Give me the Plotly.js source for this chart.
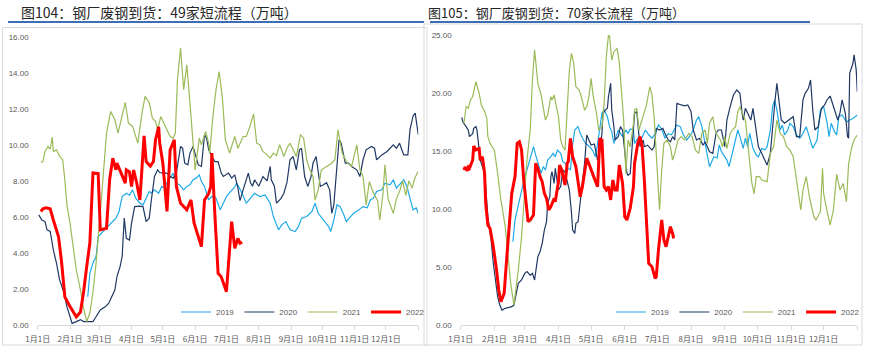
<!DOCTYPE html>
<html>
<head>
<meta charset="utf-8">
<script src="https://cdn.plot.ly/plotly-3.0.1.min.js"></script>
<style>
  html,body{margin:0;padding:0;background:#fff;}
  #chart{width:869px;height:353px;}
</style>
</head>
<body>
<div id="chart"></div>
<script>
// ---------- labels ----------
const titleLeft = '图104：钢厂废钢到货：49家短流程（万吨）';
const titleRight = '图105：钢厂废钢到货：70家长流程（万吨）';
const seriesNames = ['2019', '2020', '2021', '2022'];
// month starts as day-of-year (non-leap calendar)
const monthTickDays = [0, 31, 59, 90, 120, 151, 181, 212, 243, 273, 304, 334, 365];
const monthTickText = ['1月1日','2月1日','3月1日','4月1日','5月1日','6月1日','7月1日','8月1日','9月1日','10月1日','11月1日','12月1日',''];
const leftYTicks = [0, 2, 4, 6, 8, 10, 12, 14, 16];
const rightYTicks = [0, 5, 10, 15, 20, 25];

// ---------- data: [day of year, 万吨] ----------
// 49家短流程
const short2019 = [[48,1.57],[50,2.87],[53,3.44],[56,3.8],[58,4.91],[61,5.09],[66,5.37],[69,5.56],[72,5.74],[75,5.93],[78,6.3],[81,7.13],[85,7.31],[88,7.2],[91,7.5],[94,7.04],[98,6.76],[101,6.67],[104,7.04],[107,7.41],[109,7.31],[112,7.5],[116,7.31],[119,7.69],[122,7.59],[125,8.06],[128,8.24],[130,8.43],[133,7.87],[136,7.78],[140,7.5],[143,7.69],[146,7.78],[149,8.06],[152,8.15],[155,8.33],[157,7.96],[160,7.69],[164,6.94],[167,7.13],[171,7.04],[175,6.39],[178,6.76],[181,7.13],[184,7.35],[188,7.59],[191,7.87],[196,7.31],[200,6.76],[204,7.04],[208,7.31],[213,7.13],[218,7.22],[223,6.76],[226,6.02],[231,5.28],[234,5.56],[238,5.74],[242,5.28],[247,5.19],[250,5.46],[253,5.93],[258,6.02],[263,6.3],[266,6.76],[269,6.2],[274,5.83],[279,5.46],[281,5.19],[284,5.83],[287,6.67],[290,6.57],[293,6.2],[296,5.74],[300,6.02],[303,6.2],[308,6.39],[312,6.57],[316,6.5],[319,6.94],[322,7.04],[325,7.41],[330,7.5],[333,7.87],[338,7.78],[341,8.06],[344,7.6],[348,7.87],[351,8.06],[354,7.7],[357,7.0],[360,6.39],[363,6.5],[365,6.2]];
const short2020 = [[1,6.11],[4,5.83],[7,5.74],[9,5.28],[12,5.19],[15,4.17],[18,3.44],[21,2.5],[25,1.83],[28,1.02],[31,0.46],[33,0.09],[37,0.19],[41,0.3],[44,0.19],[48,0.2],[53,0.19],[56,0.46],[60,0.83],[65,1.02],[68,1.2],[71,1.57],[74,1.94],[76,2.69],[79,3.24],[81,3.8],[83,5.93],[85,4.81],[88,4.72],[90,5.65],[93,6.57],[98,6.6],[101,6.57],[104,5.74],[107,5.93],[109,6.94],[112,8.24],[115,8.61],[117,8.46],[120,8.43],[124,8.43],[127,8.24],[130,8.15],[133,8.43],[135,9.07],[137,9.91],[139,9.81],[141,8.98],[144,8.89],[146,9.54],[149,9.91],[152,9.35],[154,8.89],[157,8.8],[160,10.56],[162,10.37],[164,9.72],[167,9.35],[170,9.07],[173,9.07],[176,8.43],[178,8.24],[181,8.33],[183,8.43],[186,8.15],[189,8.33],[192,7.6],[194,6.9],[197,7.5],[202,8.43],[204,7.9],[206,7.7],[208,8.06],[212,7.7],[216,8.24],[220,8.0],[223,8.8],[224,8.06],[227,7.7],[229,6.76],[233,7.0],[236,7.3],[239,7.9],[242,9.17],[245,9.35],[248,8.61],[251,9.72],[253,9.81],[256,8.24],[259,7.69],[262,8.2],[264,8.98],[267,9.35],[269,8.61],[271,7.69],[274,7.78],[277,7.9],[280,7.5],[282,6.2],[284,6.67],[286,8.06],[287,9.07],[289,10.28],[291,10.09],[295,8.98],[298,8.98],[301,8.8],[306,8.61],[309,8.24],[312,9.17],[315,9.72],[320,9.91],[323,9.81],[325,9.17],[330,9.44],[335,9.63],[341,10.0],[344,9.81],[347,10.09],[351,9.44],[355,9.44],[357,10.83],[360,11.6],[362,11.76],[365,10.56]];
const short2021 = [[3,9.02],[5,9.07],[7,9.63],[10,9.91],[12,9.76],[14,10.43],[15,9.63],[18,9.72],[21,9.35],[24,9.17],[26,8.06],[28,6.67],[31,5.65],[34,4.35],[37,3.06],[41,1.94],[44,0.93],[47,0.19],[50,0.65],[53,1.83],[56,3.44],[60,6.2],[63,8.43],[66,10.65],[70,11.85],[74,11.39],[77,10.65],[80,11.39],[84,12.35],[87,11.2],[91,11.02],[93,10.65],[96,10.09],[100,11.76],[103,12.69],[107,12.33],[110,11.48],[113,11.3],[115,10.83],[118,11.57],[120,11.3],[124,10.83],[127,10.46],[130,10.37],[132,10.65],[134,13.6],[137,15.37],[140,13.06],[143,14.44],[146,12.33],[149,10.28],[151,8.61],[155,10.37],[157,10.0],[161,10.74],[164,10.09],[165,9.54],[168,11.57],[171,13.06],[174,14.07],[177,12.69],[180,10.28],[184,9.54],[189,10.46],[192,9.81],[197,10.46],[200,10.46],[203,10.93],[207,11.72],[210,10.09],[213,10.0],[216,9.63],[220,9.44],[223,9.26],[226,9.54],[229,9.4],[232,10.0],[236,9.35],[239,9.81],[242,10.09],[245,9.72],[248,9.35],[252,10.56],[255,10.37],[258,9.17],[261,8.61],[264,8.24],[266,6.94],[269,7.5],[272,8.61],[277,8.8],[282,8.98],[285,9.17],[288,10.83],[292,9.54],[296,9.07],[301,8.8],[306,10.0],[309,8.61],[312,8.24],[315,6.67],[318,7.96],[322,7.31],[326,6.9],[328,5.83],[331,7.2],[333,8.89],[336,7.0],[341,6.2],[344,7.0],[347,7.4],[350,8.0],[353,7.2],[356,8.0],[359,7.6],[362,8.2],[365,8.52]];
const short2022 = [[3,6.3],[5,6.45],[8,6.5],[12,6.45],[15,5.83],[18,5.28],[20,4.9],[23,3.44],[26,1.57],[31,1.02],[37,0.45],[41,0.72],[44,1.83],[47,3.24],[50,4.55],[53,8.44],[58,8.4],[60,5.28],[66,5.37],[69,8.06],[72,9.26],[75,8.61],[76,8.98],[80,8.43],[84,7.87],[85,8.61],[88,8.5],[90,7.69],[92,8.6],[95,7.87],[98,6.94],[102,10.5],[104,9.07],[108,8.82],[111,9.07],[113,10.28],[116,11.0],[117,10.1],[120,8.98],[124,6.3],[127,9.72],[131,10.28],[133,7.69],[137,6.76],[140,6.57],[143,6.39],[147,6.94],[150,5.65],[152,5.28],[157,4.35],[160,6.94],[164,7.3],[166,7.69],[167,9.54],[170,6.02],[173,2.87],[176,2.68],[181,1.85],[186,5.74],[189,4.26],[192,4.81],[194,4.54],[196,4.6]];

// 70家长流程
const long2019 = [[48,7.18],[50,9.05],[52,9.91],[54,10.78],[56,11.64],[59,12.79],[61,13.36],[63,14.08],[66,14.94],[67,15.37],[69,14.65],[71,13.94],[74,13.07],[76,13.65],[78,13.36],[80,14.22],[83,14.51],[85,14.8],[87,14.5],[89,15.08],[92,14.8],[94,14.08],[96,13.94],[99,13.5],[101,13.36],[103,15.52],[105,16.81],[108,17.1],[110,16.52],[113,15.95],[115,15.66],[117,15.52],[120,15.23],[122,14.94],[124,14.51],[126,15.66],[129,17.67],[130,18.25],[132,18.53],[135,17.96],[137,17.1],[139,16.67],[141,15.66],[143,16.24],[145,16.8],[147,16.52],[149,16.24],[152,16.8],[154,16.52],[156,16.9],[159,16.81],[160,15.66],[163,16.1],[166,16.0],[170,16.81],[173,16.4],[176,16.1],[179,16.5],[182,17.24],[185,16.9],[188,16.1],[191,16.5],[194,16.4],[199,17.24],[202,17.1],[205,16.38],[208,15.95],[211,16.3],[214,16.81],[217,17.67],[219,17.96],[222,17.1],[224,15.95],[226,15.09],[229,13.65],[231,14.08],[233,14.51],[236,14.4],[238,15.52],[240,14.94],[243,14.51],[245,14.22],[247,13.65],[249,14.4],[252,15.66],[255,16.81],[257,16.24],[260,15.23],[262,16.1],[264,15.37],[266,16.52],[269,15.23],[272,14.65],[274,14.51],[277,15.23],[280,15.1],[282,15.37],[285,16.81],[287,18.82],[289,19.4],[291,18.53],[294,16.81],[296,17.24],[298,16.38],[301,16.81],[303,17.39],[306,17.1],[309,16.38],[312,16.1],[315,16.52],[318,17.1],[321,16.24],[324,15.23],[328,15.95],[331,18.53],[334,18.82],[337,17.53],[339,16.24],[341,17.39],[344,16.67],[346,16.38],[348,17.96],[351,18.1],[354,17.67],[356,17.53],[358,17.67],[361,17.8],[363,17.96],[365,18.1]];
const long2020 = [[1,17.9],[2,17.5],[5,17.1],[7,16.8],[8,16.24],[11,16.5],[12,16.95],[14,17.1],[15,16.8],[17,15.37],[18,14.22],[21,13.36],[23,11.93],[25,9.34],[28,7.33],[30,5.32],[32,3.59],[34,2.44],[36,1.72],[38,1.29],[41,1.44],[44,1.52],[47,1.58],[49,1.72],[51,2.73],[53,3.59],[56,3.88],[59,4.45],[61,4.6],[64,4.3],[66,4.45],[68,3.88],[71,5.89],[73,6.32],[75,7.04],[77,8.19],[79,8.91],[80,10.49],[82,11.06],[83,12.79],[84,13.22],[86,12.21],[87,13.5],[90,11.64],[92,11.93],[94,13.36],[96,13.2],[99,11.78],[100,11.6],[102,9.63],[103,8.19],[105,7.9],[106,8.77],[108,8.9],[110,10.49],[111,11.06],[113,12.79],[114,13.94],[116,16.38],[119,15.8],[120,15.52],[123,15.6],[125,14.65],[126,14.2],[128,14.9],[130,16.52],[131,18.25],[133,18.53],[135,18.68],[136,19.68],[138,20.83],[139,18.53],[141,17.1],[142,15.95],[145,16.24],[147,17.1],[149,16.8],[151,15.08],[153,13.07],[154,12.9],[156,13.07],[158,15.66],[160,18.25],[162,18.4],[164,15.95],[165,15.4],[168,15.95],[169,15.37],[172,15.5],[176,15.08],[178,15.37],[180,16.95],[183,16.8],[186,16.95],[188,16.5],[191,15.95],[193,15.8],[195,16.24],[197,15.95],[199,19.11],[203,18.97],[206,18.9],[209,18.97],[212,18.39],[214,16.81],[217,15.95],[220,16.1],[223,15.5],[225,15.8],[229,14.94],[232,14.8],[235,16.52],[237,16.81],[240,16.81],[243,15.37],[245,17.67],[248,18.82],[251,19.83],[254,20.26],[257,19.97],[259,18.25],[260,17.67],[262,18.68],[265,18.1],[267,17.67],[269,18.68],[272,16.81],[274,15.37],[277,14.8],[280,14.22],[282,13.79],[285,14.8],[287,17.39],[289,19.11],[291,20.83],[293,19.4],[295,17.67],[298,17.39],[302,17.67],[306,17.96],[309,16.24],[312,16.24],[315,19.4],[317,19.97],[320,20.4],[322,21.12],[324,18.53],[326,16.81],[329,17.1],[332,18.68],[335,18.97],[337,19.4],[340,19.74],[342,19.1],[344,18.53],[347,17.67],[349,18.25],[351,19.4],[354,18.25],[356,16.24],[357,16.1],[358,21.7],[361,22.56],[362,23.28],[364,22.0],[365,20.11]];
const long2021 = [[3,17.39],[5,18.82],[7,18.7],[9,19.4],[11,19.68],[14,20.98],[17,19.97],[19,18.97],[22,18.4],[24,17.82],[25,16.24],[27,15.66],[29,15.37],[31,15.08],[34,13.07],[37,10.78],[41,8.48],[44,5.89],[46,3.59],[49,1.72],[51,3.02],[53,4.74],[56,7.61],[59,11.64],[61,14.22],[64,16.81],[66,21.12],[68,23.71],[69,22.84],[71,20.83],[74,19.83],[76,18.68],[78,17.67],[80,18.1],[83,19.68],[84,19.4],[86,19.83],[88,18.82],[90,17.96],[92,15.95],[94,15.37],[96,15.08],[98,18.25],[100,21.98],[102,23.42],[104,22.56],[106,20.54],[109,20.25],[111,19.68],[113,18.82],[114,18.53],[116,18.82],[118,19.68],[120,21.26],[122,19.68],[125,18.25],[127,16.81],[130,17.1],[132,19.11],[134,23.13],[136,25.0],[137,24.9],[139,22.84],[141,23.56],[144,23.85],[146,22.56],[148,19.68],[150,17.67],[152,13.07],[154,15.95],[156,15.37],[159,17.39],[160,18.53],[162,18.68],[164,16.81],[165,17.1],[168,17.96],[171,18.97],[174,20.54],[176,19.83],[178,17.96],[180,14.51],[182,11.93],[183,9.91],[185,13.36],[187,15.66],[190,15.95],[193,15.37],[195,14.22],[197,14.8],[200,15.95],[203,16.24],[206,15.95],[210,16.52],[213,16.24],[216,15.09],[219,14.8],[222,16.52],[225,16.81],[227,15.66],[229,17.39],[232,17.96],[234,16.81],[236,16.38],[239,15.95],[241,15.37],[243,16.24],[245,15.2],[248,16.52],[250,16.81],[253,17.1],[255,18.39],[257,18.82],[259,18.25],[262,17.67],[264,15.66],[266,13.65],[268,12.21],[270,11.3],[272,12.79],[275,12.8],[277,12.5],[282,12.36],[285,14.8],[288,15.37],[291,17.67],[294,16.52],[297,16.24],[300,15.37],[303,15.09],[306,14.51],[309,12.5],[313,9.91],[315,11.64],[318,12.8],[321,11.0],[325,9.34],[327,9.05],[331,9.77],[333,13.5],[334,11.35],[337,9.91],[340,8.62],[343,9.91],[346,13.0],[349,11.64],[352,12.2],[355,10.63],[357,13.9],[360,15.37],[362,15.95],[365,16.38]];
const long2022 = [[3,13.36],[4,13.62],[6,13.3],[7,13.6],[8,13.5],[10,13.94],[11,14.2],[12,15.43],[14,15.1],[17,15.2],[18,14.2],[20,14.5],[22,13.07],[23,10.49],[25,8.62],[27,8.33],[30,6.75],[33,4.74],[35,3.02],[37,2.01],[40,2.73],[42,5.32],[45,8.77],[47,11.36],[50,12.79],[52,15.66],[54,15.8],[56,15.1],[58,12.5],[60,10.49],[62,8.91],[64,9.05],[67,9.48],[69,13.94],[71,13.5],[73,12.79],[75,12.36],[77,11.36],[79,10.92],[81,9.91],[83,10.2],[86,10.92],[87,10.63],[90,12.36],[91,13.79],[93,13.36],[96,12.07],[98,13.94],[99,14.1],[101,16.09],[103,14.51],[106,13.65],[108,12.21],[110,11.06],[112,11.93],[114,13.07],[116,14.37],[119,13.65],[121,13.07],[123,12.64],[126,11.93],[128,16.09],[130,15.95],[132,11.93],[134,11.64],[136,11.93],[138,10.78],[140,12.5],[142,11.64],[144,11.64],[146,13.79],[149,12.21],[151,9.34],[153,9.05],[156,10.06],[159,11.93],[160,13.94],[163,15.66],[165,16.24],[167,15.37],[169,12.5],[171,9.34],[173,5.32],[176,5.03],[179,4.02],[180,4.17],[182,6.47],[185,9.05],[187,7.33],[189,6.75],[192,7.9],[193,8.48],[195,7.9],[196,7.47]];

// ---------- styling ----------
const colors = {'2019': '#1FA9E6', '2020': '#1F3864', '2021': '#9BBB59', '2022': '#FF0000'};
const widths = {'2019': 1.2, '2020': 1.2, '2021': 1.2, '2022': 3};

const W = 869, H = 353;
const px = v => v / W;
const py = v => 1 - v / H;

function mk(name, pts, xa, ya, legend) {
  return {
    type: 'scatter', mode: 'lines', name: name,
    x: pts.map(p => p[0]), y: pts.map(p => p[1]),
    xaxis: xa, yaxis: ya, legend: legend,
    line: {color: colors[name], width: widths[name]},
    hoverinfo: 'skip'
  };
}

const leftSets = [short2019, short2020, short2021, short2022];
const rightSets = [long2019, long2020, long2021, long2022];
const traces = [];
seriesNames.forEach((n, i) => traces.push(mk(n, leftSets[i], 'x', 'y', 'legend')));
seriesNames.forEach((n, i) => traces.push(mk(n, rightSets[i], 'x2', 'y2', 'legend2')));

const tickFont = {family: 'Liberation Sans, Arial, sans-serif', size: 8, color: '#595959'};
const xTickFont = {family: 'Noto Sans CJK SC, sans-serif', size: 8, color: '#595959'};

function xAxis(d0, d1, anchor) {
  return {
    domain: [px(d0), px(d1)], anchor: anchor, range: [0, 365],
    tickmode: 'array', tickvals: monthTickDays, ticktext: monthTickText, tickangle: 0,
    showgrid: false, zeroline: false, showline: true, linecolor: '#D9D9D9', linewidth: 1,
    ticks: 'outside', ticklen: 4, tickcolor: '#D9D9D9', tickfont: xTickFont,
    ticklabelstandoff: 2, fixedrange: true
  };
}
function yAxis(top, rng, vals, anchor) {
  return {
    domain: [py(325), py(top)], anchor: anchor, range: rng,
    tickmode: 'array', tickvals: vals, tickformat: '.2f',
    showgrid: false, zeroline: false, showline: false, ticks: '',
    tickfont: tickFont, ticklabelstandoff: 8, fixedrange: true
  };
}

const legendBase = {
  orientation: 'h', yanchor: 'middle', y: py(312), xanchor: 'center',
  font: {family: 'Liberation Sans, Arial, sans-serif', size: 8, color: '#595959'},
  bgcolor: 'rgba(0,0,0,0)', traceorder: 'normal', itemclick: false
};

const layout = {
  width: W, height: H,
  margin: {l: 0, r: 0, t: 0, b: 0},
  paper_bgcolor: '#FFFFFF', plot_bgcolor: 'rgba(0,0,0,0)',
  font: {family: 'Liberation Sans, Arial, sans-serif'},
  showlegend: true,
  xaxis: xAxis(37.7, 418.3, 'y'),
  yaxis: yAxis(36.7, [0, 16], leftYTicks, 'x'),
  xaxis2: xAxis(460.7, 857.3, 'y2'),
  yaxis2: yAxis(35, [0, 25], rightYTicks, 'x2'),
  legend: Object.assign({}, legendBase, {x: px(303)}),
  legend2: Object.assign({}, legendBase, {x: px(738)}),
  shapes: [
    {type: 'rect', xref: 'paper', yref: 'paper', x0: px(2.5), x1: px(427), y0: py(345), y1: py(27.5),
     line: {color: '#D9D9D9', width: 1}, fillcolor: 'rgba(0,0,0,0)', layer: 'below'},
    {type: 'rect', xref: 'paper', yref: 'paper', x0: px(424), x1: px(862), y0: py(345), y1: py(24),
     line: {color: '#D9D9D9', width: 1}, fillcolor: 'rgba(0,0,0,0)', layer: 'below'},
    {type: 'line', xref: 'paper', yref: 'paper', x0: px(8), x1: px(424), y0: py(22), y1: py(22),
     line: {color: '#3C6EB4', width: 2}},
    {type: 'line', xref: 'paper', yref: 'paper', x0: px(430), x1: px(810), y0: py(22), y1: py(22),
     line: {color: '#3C6EB4', width: 2}}
  ],
  annotations: [
    {text: titleLeft, xref: 'paper', yref: 'paper', x: px(19), y: py(12), xanchor: 'left', yanchor: 'middle',
     showarrow: false, font: {family: 'Noto Sans CJK SC, sans-serif', size: 14, color: '#262626'}},
    {text: titleRight, xref: 'paper', yref: 'paper', x: px(426), y: py(12), xanchor: 'left', yanchor: 'middle',
     showarrow: false, font: {family: 'Noto Sans CJK SC, sans-serif', size: 13, color: '#262626'}}
  ]
};

Plotly.newPlot('chart', traces, layout, {staticPlot: true, displayModeBar: false});
</script>
</body>
</html>
